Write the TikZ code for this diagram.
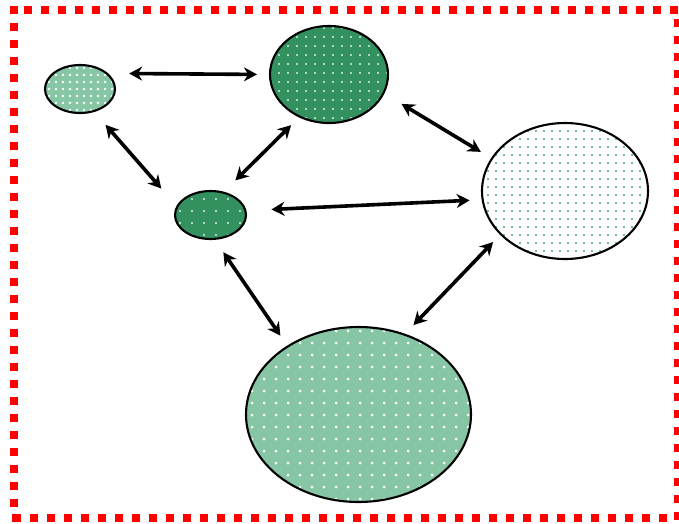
\documentclass[tikz,border=0pt]{standalone}
\usepackage{tikz}
\usetikzlibrary{shapes.geometric, patterns.meta, arrows.meta}

\definecolor{darkgrn}{RGB}{50,145,95}
\definecolor{mintgrn}{RGB}{135,198,165}
\definecolor{dotgrn}{RGB}{70,165,115}

\tikzset{
  blob/.style={ellipse, draw, line width=2.1pt, inner sep=0pt},
  link/.style={<->, line width=3.6pt},
}

\begin{document}
\begin{tikzpicture}[x=1pt, y=-1pt, >={Stealth[length=13pt, width=14pt]}]
            \useasboundingbox (0,0) rectangle (679,523);
            \draw[red, line width=8pt, line cap=rect, dash pattern=on 0.1pt off 16.9pt]
                (14,10) rectangle (678,517.5);

            \node[blob, minimum width=70pt, minimum height=48pt,
                  preaction={fill=mintgrn}, pattern={Dots[distance=7pt, radius=1.4pt]}, pattern color=white] (sml) at (80,89) {};
            \node[blob, minimum width=118pt, minimum height=97pt,
                  preaction={fill=darkgrn}, pattern={Dots[distance=9pt, radius=1.1pt]}, pattern color=white!85!darkgrn] (top) at (329,74.5) {};
            \node[blob, minimum width=71pt, minimum height=48pt,
                  preaction={fill=darkgrn}, pattern={Dots[distance=12pt, radius=1.1pt]}, pattern color=white!85!darkgrn] (mid) at (210.5,215) {};
            \node[blob, minimum width=166pt, minimum height=136pt,
                  preaction={fill=white}, pattern={Dots[distance=8pt, radius=1.1pt]}, pattern color=dotgrn] (rgt) at (565,191) {};
            \node[blob, minimum width=225pt, minimum height=175pt,
                  preaction={fill=mintgrn}, pattern={Dots[distance=12pt, radius=1.5pt]}, pattern color=white] (bot) at (358.5,414.5) {};

            \draw[link, shorten <=21pt, shorten >=12pt] (sml.29) -- (top.180);
            \draw[link, shorten <=17pt, shorten >=23pt] (sml.-58) -- (mid.165);
            \draw[link, shorten <=16pt, shorten >=11pt] (mid.60) -- (top.-125);
            \draw[link, shorten <=20pt, shorten >=12pt] (top.-19) -- (rgt.156);
            \draw[link, shorten <=25pt, shorten >=12pt] (mid.7) -- (rgt.-174);
            \draw[link, shorten <=15pt, shorten >=12pt] (mid.-80) -- (bot.136);
            \draw[link, shorten <=12pt, shorten >=10pt] (bot.60) -- (rgt.-146);
\end{tikzpicture}
\end{document}
